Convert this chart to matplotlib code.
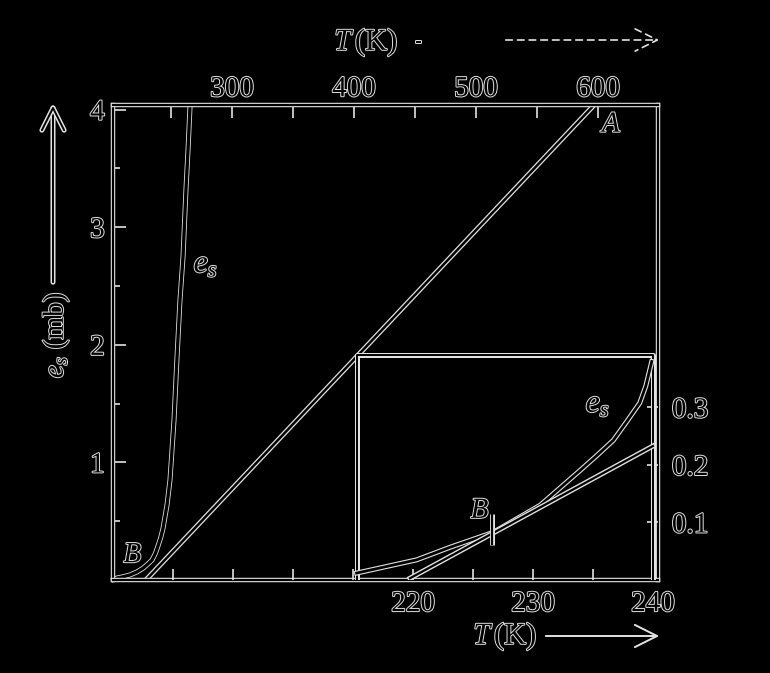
import matplotlib
matplotlib.use("Agg")
import matplotlib.pyplot as plt
import matplotlib.patheffects as pe
from matplotlib.patches import FancyArrowPatch

plt.rcParams['font.family'] = ['Liberation Serif', 'DejaVu Serif']
plt.rcParams['mathtext.fontset'] = 'custom'
plt.rcParams['mathtext.rm'] = 'Liberation Serif'
plt.rcParams['mathtext.it'] = 'Liberation Serif:italic'

# main panel: e_s (mb) against T (K), top axis
main_T = [203.0, 205.8, 211.0, 216.4, 222.0, 227.1, 231.0, 234.5, 237.2, 239.4,
          241.6, 243.5, 246.8, 249.2, 252.5, 255.0, 257.4, 259.9, 262.3, 264.0,
          265.6]
main_es = [0.005, 0.017, 0.028, 0.043, 0.068, 0.10, 0.135, 0.17, 0.225, 0.29,
           0.36, 0.44, 0.64, 0.85, 1.36, 1.90, 2.38, 2.75, 3.32, 3.66,
           4.02]
line_T = [229.5, 595.0]
line_es = [0.0, 4.02]

# inset: same curve zoomed, bottom T axis and right e_s axis
inset_T = [215.3, 220.3, 223.1, 226.7, 230.6, 233.9, 235.3, 236.7, 237.8,
           238.9, 239.4, 239.9]
inset_es = [0.012, 0.035, 0.057, 0.083, 0.13, 0.19, 0.216, 0.243, 0.275,
            0.308, 0.337, 0.38]
inset_line_T = [219.75, 240.0]
inset_line_es = [0.003, 0.233]
B_T, B_es = 226.6, 0.088

top_ticks = [250, 300, 350, 400, 450, 500, 550, 600]
top_labels = ['', '300', '', '400', '', '500', '', '600']
left_ticks = [1, 2, 3, 4]
left_minor = [0.5, 1.5, 2.5, 3.5]
bottom_ticks = [200, 205, 210, 215, 220, 225, 230, 235, 240]
bottom_labels = ['', '', '', '', '220', '', '230', '', '240']
right_ticks = [0.1, 0.2, 0.3]

W, H = 770, 673
LIGHT = '#e2e2e2'
line_fx = [pe.Stroke(linewidth=3.6, foreground=LIGHT), pe.Normal()]
text_fx = [pe.withStroke(linewidth=1.4, foreground=LIGHT)]


def px(x, y):
    return x / W, 1 - y / H


fig = plt.figure(figsize=(W / 100, H / 100), dpi=100, facecolor='black')
rect = [113 / W, 1 - 580 / H, 545 / W, 475 / H]

ax = fig.add_axes(rect)
ax.set_facecolor('black')
ax.set_xlim(202.5, 649.2)
ax.set_ylim(0, 4.04)
ax.xaxis.tick_top()
ax.set_xticks(top_ticks, top_labels)
ax.set_yticks(left_ticks, [str(t) for t in left_ticks])
ax.set_yticks(left_minor, minor=True)
ax.tick_params(which='both', direction='in', color=LIGHT, width=1.2,
               labelsize=21, labelcolor='black', right=False, bottom=False)
ax.tick_params(which='major', length=9)
ax.tick_params(which='minor', length=5)
ax.tick_params(axis='x', pad=2)
ax.tick_params(axis='y', pad=6)
for s in ax.spines.values():
    s.set_color('black')
    s.set_linewidth(1.6)
    s.set_path_effects([pe.Stroke(linewidth=3.2, foreground=LIGHT), pe.Normal()])

ax.plot(main_T, main_es, color='black', lw=2.4, path_effects=line_fx, clip_on=False)
ax.plot(line_T, line_es, color='black', lw=1.8, path_effects=line_fx)

ax2 = fig.add_axes(rect, frameon=False)
ax2.patch.set_visible(False)
ax2.set_xlim(195, 240.42)
ax2.set_ylim(0, 0.826)
ax2.yaxis.tick_right()
ax2.set_xticks(bottom_ticks, bottom_labels)
ax2.set_yticks(right_ticks, [str(t) for t in right_ticks])
ax2.tick_params(direction='in', color=LIGHT, width=1.2, length=8,
                labelsize=21, labelcolor='black', top=False, left=False)
ax2.tick_params(axis='x', pad=8)
ax2.tick_params(axis='y', pad=10)

# inset frame
box_l, box_r, box_t = 215.33, 240.0, 0.391
ax2.plot([box_l, box_l, box_r, box_r], [0, box_t, box_t, 0], color='black',
         lw=1.4, path_effects=line_fx)
ax2.plot(inset_T, inset_es, color='black', lw=2.0, path_effects=line_fx)
ax2.plot(inset_line_T, inset_line_es, color='black', lw=1.6, path_effects=line_fx)
ax2.plot([B_T], [B_es], marker='|', ms=22, mew=1.6, color='black',
         path_effects=line_fx)

for a in (ax, ax2):
    for lbl in a.get_xticklabels() + a.get_yticklabels():
        lbl.set_path_effects(text_fx)

tkw = dict(color='black', path_effects=text_fx, ha='center', va='center')
ax.text(218.9, 0.21, '$B$', fontsize=21, **tkw)
ax.text(278.5, 2.68, '$e_s$', fontsize=23, **tkw)
ax.text(612.0, 3.87, '$A$', fontsize=21, **tkw)
ax2.text(235.4, 0.305, '$e_s$', fontsize=23, **tkw)
ax2.text(225.6, 0.12, '$B$', fontsize=21, **tkw)

# axis titles with arrows
fig.text(*px(366, 42), '$T\\,$(K)', fontsize=22, **tkw)
fig.text(*px(419, 42), '-', fontsize=14, **tkw)
fig.add_artist(FancyArrowPatch(
    px(503, 40), px(662, 40), transform=fig.transFigure, arrowstyle='->',
    mutation_scale=40, linestyle=(0, (4, 3)), color=LIGHT, lw=1.2))

fig.text(*px(505, 636), '$T\\,$(K)', fontsize=22, **tkw)
fig.add_artist(FancyArrowPatch(
    px(543, 636), px(662, 636), transform=fig.transFigure, arrowstyle='->',
    mutation_scale=40, color=LIGHT, lw=1.4))

fig.text(*px(56, 335), '$e_s$ (mb)', fontsize=21, rotation=90, **tkw)
fig.add_artist(FancyArrowPatch(
    px(53, 285), px(53, 103), transform=fig.transFigure, arrowstyle='->',
    mutation_scale=40, color='black', lw=1.4, path_effects=line_fx))

fig.savefig('out.png', dpi=100, facecolor='black')
